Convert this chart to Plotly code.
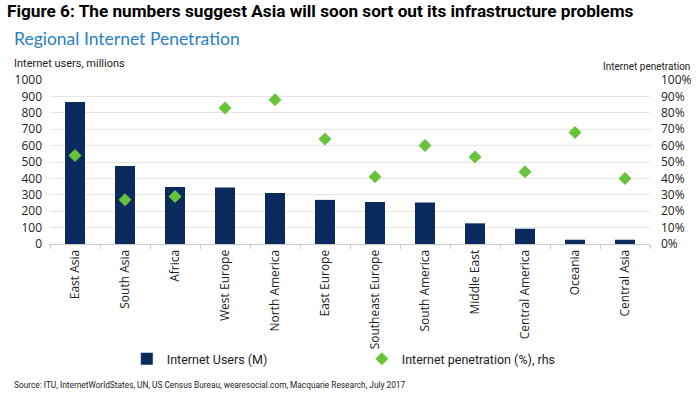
import plotly.graph_objects as go

categories = ["East Asia", "South Asia", "Africa", "West Europe", "North America",
              "East Europe", "Southeast Europe", "South America", "Middle East",
              "Central America", "Oceania", "Central Asia"]
users_m = [866, 476, 348, 344, 311, 269, 256, 253, 126, 93, 26, 26]
penetration_pct = [54, 27, 29, 83, 88, 64, 41, 60, 53, 44, 68, 40]
left_ticks = list(range(0, 1001, 100))
right_ticks = list(range(0, 101, 10))
right_labels = [f"{v}%" for v in right_ticks]

NAVY = "#0b2a5e"
GREEN = "#66c43a"
TICKFONT = dict(family="Open Sans, DejaVu Sans, sans-serif", size=12, color="#222")
NARROW = "Roboto, Liberation Sans, sans-serif"

fig = go.Figure()
fig.add_trace(go.Bar(x=categories, y=users_m, name="Internet Users (M)",
                     marker=dict(color=NAVY, line=dict(width=0)), width=0.4, yaxis="y"))
fig.add_trace(go.Scatter(x=categories, y=penetration_pct, name="Internet penetration (%), rhs",
                         mode="markers", marker=dict(symbol="diamond", size=10, color=GREEN),
                         yaxis="y2"))

fig.update_layout(
    width=700, height=399,
    margin=dict(l=50, r=50, t=80, b=155, autoexpand=False),
    paper_bgcolor="white", plot_bgcolor="white",
    showlegend=True,
    legend=dict(orientation="h", x=0.128, xanchor="left", y=-0.611, yanchor="top",
                entrywidth=190, entrywidthmode="pixels",
                font=dict(family=NARROW, size=12.5, color="#222"),
                itemwidth=30, traceorder="normal", bgcolor="rgba(0,0,0,0)"),
    xaxis=dict(range=[-0.5, len(categories) - 0.5], tickangle=-90, tickfont=TICKFONT,
               showgrid=False, showline=True,
               linecolor="#c8c8c8", linewidth=1, ticks="outside", tickson="boundaries",
               ticklen=4, tickcolor="#c8c8c8"),
    yaxis=dict(range=[0, 1000], tickvals=left_ticks, tickfont=TICKFONT, showgrid=True,
               gridcolor="#e6e6e6", gridwidth=1, zeroline=False, ticks="",
               ticklabelstandoff=7),
    yaxis2=dict(range=[0, 100], tickvals=right_ticks, ticktext=right_labels, overlaying="y",
                side="right", tickfont=TICKFONT, showgrid=False, zeroline=False,
                ticklabelstandoff=10),
    annotations=[
        dict(text="<b>Figure 6: The numbers suggest Asia will soon sort out its infrastructure problems</b>",
             xref="paper", yref="paper", x=-0.075, y=1.0, xanchor="left", yanchor="bottom",
             yshift=57, showarrow=False,
             font=dict(family=NARROW, size=17.2, color="#000")),
        dict(text="Regional Internet Penetration", xref="paper", yref="paper",
             x=-0.0633, y=1.0, xanchor="left", yanchor="bottom", yshift=29.5, showarrow=False,
             font=dict(family="Lato, Open Sans, sans-serif", size=17.5, color="#2a7fc0")),
        dict(text="Internet users, millions", xref="paper", yref="paper",
             x=-0.0633, y=1.0, xanchor="left", yanchor="bottom", yshift=8, showarrow=False,
             font=dict(family=NARROW, size=11, color="#222")),
        dict(text="Internet penetration", xref="paper", yref="paper",
             x=1.07, y=1.0, xanchor="right", yanchor="bottom", yshift=6, showarrow=False,
             font=dict(family=NARROW, size=10, color="#222")),
        dict(text="Source: ITU, InternetWorldStates, UN, US Census Bureau, wearesocial.com, Macquarie Research, July 2017",
             xref="paper", yref="paper", x=-0.0633, y=0, xanchor="left", yanchor="top",
             yshift=-134, showarrow=False,
             font=dict(family=NARROW, size=8.3, color="#222")),
    ],
)

fig.write_html("out.html", config={"displayModeBar": False},
               post_script="document.body.style.margin='0';")
